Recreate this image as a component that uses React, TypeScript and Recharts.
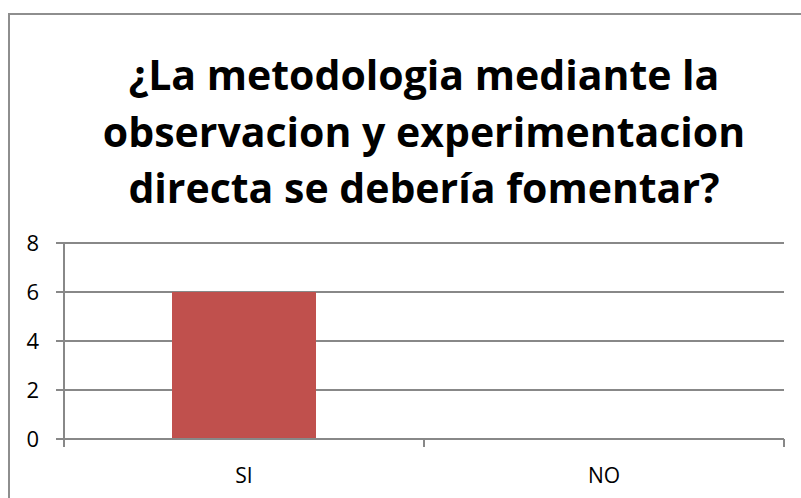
import React from 'react'
import { BarChart, Bar, XAxis, YAxis, CartesianGrid } from 'recharts'

const categories = ['SI', 'NO']
const values = [6, 0]
const yTicks = [0, 2, 4, 6, 8]
const titleLines = [
  '¿La metodologia mediante la',
  'observacion y experimentacion',
  'directa se debería fomentar?',
]

const data = categories.map((name, i) => ({ name, value: values[i] }))

const AXIS = '#888888'
const FONT = '"Open Sans", "Noto Sans", sans-serif'

// category tick: label in the middle, tick marks at the band edges
const BandTick = (props: any) => {
  const { x, y, payload, index } = props
  const half = payload && payload.offset ? payload.offset : 180
  const top = y - 8
  return (
    <g>
      {index === 0 ? (
        <line x1={x - half} y1={top} x2={x - half} y2={top + 8} stroke={AXIS} strokeWidth={2} />
      ) : null}
      <line x1={x + half} y1={top} x2={x + half} y2={top + 8} stroke={AXIS} strokeWidth={2} />
      <text x={x} y={y + 36} textAnchor="middle" fill="#000" fontSize={21} fontFamily={FONT}>
        {payload.value}
      </text>
    </g>
  )
}

// y tick label, plain text anchored at the end
const ValueTick = (props: any) => {
  const { x, y, payload } = props
  return (
    <text x={x} y={y} dy={8} textAnchor="end" fill="#000" fontSize={22} fontFamily={FONT}>
      {payload.value}
    </text>
  )
}

const App = () => {
  return (
    <div style={{ position: 'absolute', left: 0, top: 0, width: 801, height: 498, overflow: 'hidden', background: '#fff' }}>
      <div
        style={{
          position: 'absolute',
          left: 8,
          top: 13,
          width: 900,
          height: 600,
          border: '2px solid #8e8e8e',
          boxSizing: 'border-box',
        }}
      />
      <div
        style={{
          position: 'absolute',
          left: 0,
          top: 46,
          width: 848,
          textAlign: 'center',
          fontFamily: FONT,
          fontWeight: 700,
          fontSize: 41,
          lineHeight: '56.5px',
          color: '#000',
        }}
      >
        {titleLines.map((t) => (
          <div key={t}>{t}</div>
        ))}
      </div>
      <div style={{ position: 'absolute', left: 0, top: 0 }}>
        <BarChart
          width={801}
          height={498}
          data={data}
          margin={{ top: 243, right: 17, bottom: 29, left: 0 }}
          barCategoryGap="30%"
        >
          <CartesianGrid vertical={false} stroke={AXIS} strokeWidth={2} />
          <XAxis
            dataKey="name"
            height={30}
            axisLine={{ stroke: AXIS, strokeWidth: 2 }}
            tickLine={false}
            tick={<BandTick />}
            interval={0}
          />
          <YAxis
            width={64}
            domain={[0, 8]}
            ticks={yTicks}
            interval={0}
            axisLine={{ stroke: AXIS, strokeWidth: 2 }}
            tickLine={{ stroke: AXIS, strokeWidth: 2 }}
            tickSize={8}
            tickMargin={17}
            tick={<ValueTick />}
          />
          <Bar dataKey="value" fill="#C0504D" isAnimationActive={false} />
        </BarChart>
      </div>
    </div>
  )
}

export default App
